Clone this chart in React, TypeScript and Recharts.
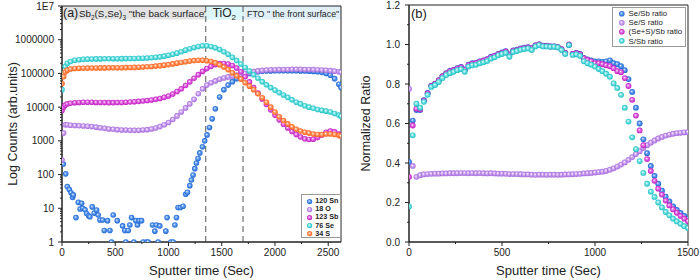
import React from 'react';
import { ScatterChart, Scatter, XAxis, YAxis, ReferenceArea, ReferenceLine, Label } from 'recharts';

const FONT = '"Liberation Sans", Arial, sans-serif';
const AXIS = '#222';

// ---------- (a) depth profile, counts vs sputter time ----------
const tA = [0, 15, 30, 50, 80, 120, 160, 200, 240, 280, 320, 360, 400, 440, 480, 520, 560, 600, 640, 680, 720, 760, 800, 840, 880, 920, 960, 1000, 1040, 1080, 1120, 1160, 1200, 1240, 1280, 1320, 1360, 1400, 1440, 1480, 1520, 1560, 1600, 1640, 1680, 1720, 1760, 1800, 1840, 1880, 1920, 1960, 2000, 2040, 2080, 2120, 2160, 2200, 2240, 2280, 2320, 2360, 2400, 2440, 2480, 2520, 2560, 2600, 2620];

const oCounts = [270, 1700, 3000, 3000, 2900, 2850, 2800, 2750, 2700, 2650, 2550, 2450, 2350, 2250, 2200, 2150, 2100, 2100, 2050, 2050, 2050, 2100, 2150, 2250, 2400, 2650, 3000, 3500, 4300, 5500, 7200, 9500, 12500, 17000, 25000, 35000, 45000, 53000, 60000, 67000, 73000, 79000, 84000, 89000, 94000, 100000, 106000, 113000, 119000, 123000, 126000, 128000, 129000, 130000, 131000, 131000, 132000, 132000, 132000, 131000, 131000, 130000, 129000, 127000, 124000, 121000, 117000, 112000, 108000];
const sbCounts = [8000, 10000, 11500, 12500, 13000, 13500, 13800, 14000, 14000, 14000, 13800, 13800, 13700, 13600, 13600, 13700, 13800, 14000, 14200, 14500, 14800, 15200, 15700, 16300, 17000, 18000, 19500, 21500, 24500, 29000, 35000, 44000, 56000, 72000, 92000, 115000, 140000, 162000, 182000, 195000, 198000, 190000, 172000, 145000, 112000, 80000, 56000, 38000, 26000, 17500, 12000, 8300, 5800, 4200, 3100, 2400, 1900, 1550, 1300, 1150, 1100, 1120, 1250, 1500, 1800, 1950, 1850, 1600, 1500];
const seCounts = [33000, 100000, 160000, 200000, 225000, 245000, 255000, 262000, 265000, 268000, 270000, 270000, 272000, 272000, 273000, 273000, 274000, 275000, 276000, 278000, 280000, 283000, 287000, 292000, 300000, 310000, 325000, 345000, 370000, 400000, 440000, 490000, 540000, 590000, 630000, 660000, 660000, 630000, 580000, 510000, 440000, 370000, 300000, 240000, 190000, 150000, 118000, 92000, 72000, 57000, 46000, 38000, 32000, 27000, 23000, 19500, 16500, 14000, 12500, 11000, 10000, 9200, 8500, 8000, 7600, 7200, 6500, 5800, 5400];
const sCounts = [50000, 80000, 110000, 125000, 135000, 140000, 142000, 143000, 144000, 145000, 145000, 146000, 146000, 147000, 147000, 148000, 148000, 149000, 150000, 151000, 153000, 155000, 158000, 161000, 165000, 170000, 176000, 183000, 192000, 202000, 212000, 222000, 232000, 240000, 245000, 245000, 238000, 225000, 205000, 180000, 155000, 130000, 105000, 85000, 68000, 53000, 42000, 33000, 25000, 19000, 14000, 10000, 7200, 5200, 4000, 3200, 2600, 2200, 1950, 1800, 1700, 1600, 1550, 1550, 1600, 1600, 1550, 1450, 1400];

// Sn is noisy near the back surface, so it keeps its own time points
const snTime = [12, 35, 50, 69, 85, 100, 106, 131, 153, 170, 184, 194, 216, 231, 250, 262, 284, 303, 325, 340, 356, 381, 397, 428, 450, 465, 481, 519, 569, 590, 600, 622, 637, 653, 675, 694, 709, 725, 747, 762, 794, 809, 850, 872, 887, 903, 918, 975, 987, 1022, 1044, 1060, 1075, 1090, 1112, 1137, 1162, 1178, 1200, 1215, 1231, 1247, 1262, 1278, 1294, 1319, 1340, 1362, 1385, 1410, 1440, 1480, 1520, 1560, 1600, 1640, 1680, 1720, 1760, 1800, 1840, 1880, 1920, 1960, 2000, 2040, 2080, 2120, 2160, 2200, 2240, 2280, 2320, 2360, 2400, 2440, 2480, 2520, 2560, 2600, 2620];
const snCounts = [205, 105, 44, 36, 29, 21, 25, 5.3, 15, 9.5, 14, 10, 9, 7, 6, 5.6, 11, 7.2, 8.9, 6.3, 4.5, 4.5, 2.2, 4.3, 2.2, 1, 6.3, 4.3, 3, 2.2, 1, 2.2, 3.2, 5.3, 1, 4.3, 3.2, 4.3, 4.3, 1, 1, 1, 3.2, 2.1, 3.2, 1, 3, 2.1, 5.3, 1, 1, 3.2, 5.3, 10.5, 10.5, 11.5, 26, 30, 47, 69, 97, 150, 220, 300, 440, 670, 1000, 1500, 2500, 4500, 9000, 20000, 33000, 45000, 57000, 70000, 82000, 92000, 100000, 107000, 112000, 116000, 118000, 119000, 120000, 120000, 121000, 121000, 120000, 120000, 119000, 118000, 117000, 115000, 112000, 107000, 100000, 88000, 70000, 48000, 38000];

const xTicksA = [0, 500, 1000, 1500, 2000, 2500];
const xMinorA = [250, 750, 1250, 1750, 2250];
const yTicksA = [1, 10, 100, 1000, 10000, 100000, 1000000, 10000000];
const yLabelsA = ['1', '10', '100', '1000', '10000', '100000', '1000000', '1E7'];
const yMinorA = yTicksA.slice(0, -1).flatMap((d) => [2, 3, 4, 5, 6, 7, 8, 9].map((m) => m * d));
const legendA = ['120 Sn', '18 O', '123 Sb', '76 Se', '34 S'];

// ---------- (b) normalized ratios ----------
const tB = [0, 20, 40, 60, 80, 100, 120, 140, 160, 180, 200, 220, 240, 260, 280, 300, 320, 340, 360, 380, 400, 420, 440, 460, 480, 500, 520, 540, 560, 580, 600, 620, 640, 660, 680, 700, 720, 740, 760, 780, 800, 820, 840, 860, 880, 900, 920, 940, 960, 980, 1000, 1020, 1040, 1060, 1080, 1100, 1120, 1140, 1160, 1180, 1200, 1220, 1240, 1260, 1280, 1300, 1320, 1340, 1360, 1380, 1400, 1420, 1440, 1460, 1480, 1500];

const seSb = [0.405, 0.615, 0.668, 0.668, 0.718, 0.755, 0.792, 0.802, 0.82, 0.84, 0.855, 0.866, 0.872, 0.88, 0.886, 0.874, 0.898, 0.905, 0.907, 0.915, 0.92, 0.926, 0.937, 0.944, 0.953, 0.96, 0.966, 0.95, 0.97, 0.974, 0.98, 0.984, 0.987, 0.982, 0.996, 1.0, 0.994, 0.994, 0.99, 0.99, 0.987, 0.975, 0.957, 0.998, 0.953, 0.957, 0.952, 0.932, 0.925, 0.92, 0.915, 0.915, 0.912, 0.915, 0.92, 0.905, 0.9, 0.89, 0.87, 0.825, 0.76, 0.68, 0.6, 0.52, 0.45, 0.385, 0.335, 0.295, 0.26, 0.23, 0.205, 0.18, 0.162, 0.147, 0.132, 0.118];
const seS = [0.775, 0.385, 0.33, 0.338, 0.342, 0.344, 0.345, 0.346, 0.346, 0.347, 0.347, 0.348, 0.348, 0.348, 0.349, 0.349, 0.348, 0.349, 0.348, 0.349, 0.348, 0.347, 0.348, 0.347, 0.346, 0.346, 0.345, 0.344, 0.344, 0.344, 0.343, 0.342, 0.342, 0.341, 0.34, 0.341, 0.341, 0.34, 0.341, 0.341, 0.34, 0.341, 0.342, 0.342, 0.343, 0.344, 0.345, 0.347, 0.348, 0.35, 0.352, 0.354, 0.356, 0.36, 0.366, 0.373, 0.382, 0.392, 0.403, 0.416, 0.43, 0.445, 0.46, 0.476, 0.49, 0.503, 0.514, 0.524, 0.532, 0.539, 0.544, 0.548, 0.551, 0.553, 0.555, 0.556];
const seSSb = [0.33, 0.59, 0.675, 0.672, 0.715, 0.752, 0.79, 0.8, 0.818, 0.838, 0.853, 0.864, 0.87, 0.878, 0.884, 0.872, 0.896, 0.903, 0.905, 0.913, 0.918, 0.924, 0.935, 0.942, 0.951, 0.958, 0.964, 0.948, 0.968, 0.972, 0.978, 0.982, 0.985, 0.98, 0.995, 1.0, 0.993, 0.993, 0.99, 0.99, 0.987, 0.976, 0.958, 1.0, 0.952, 0.956, 0.95, 0.93, 0.922, 0.915, 0.905, 0.905, 0.9, 0.895, 0.89, 0.88, 0.865, 0.86, 0.83, 0.79, 0.72, 0.64, 0.565, 0.49, 0.42, 0.36, 0.31, 0.27, 0.24, 0.21, 0.185, 0.165, 0.148, 0.132, 0.118, 0.105];
const sSb = [0.18, 0.54, 0.7, 0.68, 0.71, 0.745, 0.785, 0.795, 0.81, 0.83, 0.845, 0.855, 0.862, 0.87, 0.875, 0.862, 0.888, 0.895, 0.897, 0.905, 0.91, 0.916, 0.928, 0.935, 0.945, 0.952, 0.958, 0.938, 0.962, 0.967, 0.973, 0.977, 0.98, 0.972, 0.99, 0.997, 0.99, 0.99, 0.988, 0.989, 0.985, 0.972, 0.952, 0.997, 0.947, 0.95, 0.942, 0.915, 0.905, 0.898, 0.888, 0.876, 0.865, 0.852, 0.837, 0.803, 0.78, 0.745, 0.68, 0.61, 0.53, 0.47, 0.41, 0.35, 0.295, 0.255, 0.228, 0.2, 0.175, 0.152, 0.135, 0.118, 0.104, 0.092, 0.08, 0.07];

const xTicksB = [0, 500, 1000, 1500];
const xMinorB = [250, 750, 1250];
const yTicksB = [0, 0.2, 0.4, 0.6, 0.8, 1.0, 1.2];
const yLabelsB = ['0.0', '0.2', '0.4', '0.6', '0.8', '1.0', '1.2'];
const yMinorB = [0.1, 0.3, 0.5, 0.7, 0.9, 1.1];
const legendB = ['Se/Sb ratio', 'Se/S ratio', '(Se+S)/Sb ratio', 'S/Sb ratio'];

const COLORS: Record<string, [string, string]> = {
  blue: ['#1a64d4', '#6fa6f0'],
  purple: ['#a468dc', '#d6b4f4'],
  magenta: ['#c018c0', '#e77ce7'],
  cyan: ['#18c0c2', '#8ae8ea'],
  orange: ['#ff5e18', '#ffa878'],
};
const keysA = ['blue', 'purple', 'magenta', 'cyan', 'orange'];
const keysB = ['blue', 'purple', 'magenta', 'cyan'];

const pts = (xs: number[], ys: number[]) => xs.map((t, i) => ({ t, v: ys[i] }));

const ball = (key: string, r: number) => (p: any) =>
  p.cx == null ? <g /> : <circle cx={p.cx} cy={p.cy} r={r} fill={`url(#ball-${key})`} />;

const makeXTick = (majors: number[]) => (p: any) => {
  const v = p.payload.value;
  const major = majors.includes(v);
  return (
    <g>
      <line x1={p.x} x2={p.x} y1={p.y} y2={p.y + (major ? 4 : 2)} stroke={AXIS} />
      {major && (
        <text x={p.x} y={p.y + 13.5} textAnchor="middle" fontSize={10} fontFamily={FONT} fill="#222">
          {v}
        </text>
      )}
    </g>
  );
};

const makeYTick = (majors: number[], labels: string[], gap: number) => (p: any) => {
  const i = majors.indexOf(p.payload.value);
  return (
    <g>
      <line x1={p.x - (i >= 0 ? 4 : 2)} x2={p.x} y1={p.y} y2={p.y} stroke={AXIS} />
      {i >= 0 && (
        <text x={p.x - gap} y={p.y + 3.5} textAnchor="end" fontSize={10} fontFamily={FONT} fill="#222">
          {labels[i]}
        </text>
      )}
    </g>
  );
};

const Dot = ({ k, r }: { k: string; r: number }) => (
  <svg width={r * 2 + 2} height={r * 2 + 2} style={{ display: 'block' }}>
    <circle cx={r + 1} cy={r + 1} r={r} fill={`url(#ball-${k})`} />
  </svg>
);

const bandText = (render: (x: number, y: number, w: number) => React.ReactNode) => (p: any) => {
  const vb = p.viewBox || {};
  return <g>{render(vb.x, vb.y, vb.width)}</g>;
};

export default function App() {
  return (
    <div style={{ position: 'absolute', left: 0, top: 0, width: 700, height: 280, background: '#fff', fontFamily: FONT }}>
      <svg width={0} height={0} style={{ position: 'absolute' }}>
        <defs>
          {Object.entries(COLORS).map(([k, [c, light]]) => (
            <radialGradient key={k} id={`ball-${k}`} cx="50%" cy="50%" r="50%" fx="40%" fy="38%">
              <stop offset="0%" stopColor="#ffffff" />
              <stop offset="35%" stopColor={light} />
              <stop offset="100%" stopColor={c} />
            </radialGradient>
          ))}
        </defs>
      </svg>

      {/* panel (a) */}
      <div style={{ position: 'absolute', left: 0, top: 0 }}>
        <ScatterChart width={350} height={280} margin={{ top: 6, right: 9, bottom: 0, left: 0 }}>
          <XAxis
            type="number"
            dataKey="t"
            domain={[0, 2620]}
            allowDataOverflow
            ticks={[...xTicksA, ...xMinorA]}
            interval={0}
            tickSize={0}
            tickMargin={0}
            tickLine={false}
            tick={makeXTick(xTicksA)}
            height={38}
            stroke={AXIS}
          >
            <Label value="Sputter time (Sec)" position="insideBottom" offset={5} fontSize={13} fill="#222" fontFamily={FONT} />
          </XAxis>
          <YAxis
            type="number"
            dataKey="v"
            scale="log"
            domain={[1, 10000000]}
            allowDataOverflow
            ticks={[...yTicksA, ...yMinorA]}
            interval={0}
            tickSize={0}
            tickMargin={0}
            tickLine={false}
            tick={makeYTick(yTicksA, yLabelsA, 8)}
            width={62}
            stroke={AXIS}
          >
            <Label
              value="Log Counts (arb.units)"
              angle={-90}
              position="insideLeft"
              offset={13}
              fontSize={12.5}
              fill="#222"
              fontFamily={FONT}
              style={{ textAnchor: 'middle' }}
            />
          </YAxis>

          <ReferenceLine x={1350} stroke="#555" strokeDasharray="6 4" />
          <ReferenceLine x={1700} stroke="#555" strokeDasharray="6 4" />

          <ReferenceArea x1={0} x2={1350} y1={4000000} y2={10000000} fill="#e3e3e3" fillOpacity={1} stroke="none">
            <Label
              content={bandText((x, y) => (
                <text y={y + 11} fontFamily={FONT} fill="#222">
                  <tspan x={x + 1} fontSize={12.5}>(a)</tspan>
                  <tspan x={x + 17} fontSize={9.8}>Sb</tspan>
                  <tspan fontSize={6.5} dy={2.5}>2</tspan>
                  <tspan fontSize={9.8} dy={-2.5}>(S,Se)</tspan>
                  <tspan fontSize={6.5} dy={2.5}>3</tspan>
                  <tspan fontSize={9.8} dy={-2.5}>{' "the back surface"'}</tspan>
                </text>
              ))}
            />
          </ReferenceArea>
          <ReferenceArea x1={1350} x2={1700} y1={4000000} y2={10000000} fill="#dcf7fa" fillOpacity={1} stroke="none">
            <Label
              content={bandText((x, y, w) => (
                <text x={x + w / 2} y={y + 11} textAnchor="middle" fontFamily={FONT} fill="#222">
                  <tspan fontSize={12}>TiO</tspan>
                  <tspan fontSize={8} dy={3}>2</tspan>
                </text>
              ))}
            />
          </ReferenceArea>
          <ReferenceArea x1={1700} x2={2620} y1={4000000} y2={10000000} fill="#e0eff8" fillOpacity={1} stroke="none">
            <Label
              content={bandText((x, y) => (
                <text x={x + 4} y={y + 10.5} fontSize={8.8} fontFamily={FONT} fill="#222">
                  {'FTO " the front surface"'}
                </text>
              ))}
            />
          </ReferenceArea>

          <Scatter data={pts(snTime, snCounts)} shape={ball('blue', 2.8)} isAnimationActive={false} />
          <Scatter data={pts(tA, oCounts)} shape={ball('purple', 2.8)} isAnimationActive={false} />
          <Scatter data={pts(tA, sbCounts)} shape={ball('magenta', 2.8)} isAnimationActive={false} />
          <Scatter data={pts(tA, seCounts)} shape={ball('cyan', 2.8)} isAnimationActive={false} />
          <Scatter data={pts(tA, sCounts)} shape={ball('orange', 2.8)} isAnimationActive={false} />

          <ReferenceArea x1={0} x2={2620} y1={1} y2={10000000} fill="none" stroke={AXIS} strokeWidth={1} />
        </ScatterChart>
      </div>

      <div
        style={{
          position: 'absolute', left: 301, top: 194, width: 40, height: 44, boxSizing: 'border-box',
          border: '1px solid #999', background: '#fff', padding: '2px 0 0 4px', fontSize: 7.2, fontWeight: 'bold', color: '#222',
        }}
      >
        {legendA.map((name, i) => (
          <div key={name} style={{ display: 'flex', alignItems: 'center', height: 8.2, whiteSpace: 'nowrap' }}>
            <Dot k={keysA[i]} r={2.6} />
            <span style={{ marginLeft: 2, lineHeight: '8px' }}>{name}</span>
          </div>
        ))}
      </div>

      {/* panel (b) */}
      <div style={{ position: 'absolute', left: 350, top: 0 }}>
        <ScatterChart width={350} height={280} margin={{ top: 5, right: 12, bottom: 0, left: 0 }}>
          <XAxis
            type="number"
            dataKey="t"
            domain={[0, 1500]}
            allowDataOverflow
            ticks={[...xTicksB, ...xMinorB]}
            interval={0}
            tickSize={0}
            tickMargin={0}
            tickLine={false}
            tick={makeXTick(xTicksB)}
            height={38}
            stroke={AXIS}
          >
            <Label value="Sputter time (Sec)" position="insideBottom" offset={5} fontSize={13} fill="#222" fontFamily={FONT} />
          </XAxis>
          <YAxis
            type="number"
            dataKey="v"
            domain={[0, 1.2]}
            allowDataOverflow
            ticks={[...yTicksB, ...yMinorB]}
            interval={0}
            tickSize={0}
            tickMargin={0}
            tickLine={false}
            tick={makeYTick(yTicksB, yLabelsB, 9)}
            width={59}
            stroke={AXIS}
          >
            <Label
              value="Normalized Ratio"
              angle={-90}
              position="insideLeft"
              offset={16}
              fontSize={12.5}
              fill="#222"
              fontFamily={FONT}
              style={{ textAnchor: 'middle' }}
            />
          </YAxis>

          <Scatter data={pts(tB, seSb)} shape={ball('blue', 2.9)} isAnimationActive={false} />
          <Scatter data={pts(tB, seS)} shape={ball('purple', 2.9)} isAnimationActive={false} />
          <Scatter data={pts(tB, seSSb)} shape={ball('magenta', 2.9)} isAnimationActive={false} />
          <Scatter data={pts(tB, sSb)} shape={ball('cyan', 2.9)} isAnimationActive={false} />

          <ReferenceArea x1={0} x2={1500} y1={0} y2={1.2} fill="none" stroke={AXIS} strokeWidth={1} />
        </ScatterChart>
      </div>

      <div style={{ position: 'absolute', left: 411, top: 6, fontSize: 13, color: '#222' }}>(b)</div>

      <div
        style={{
          position: 'absolute', left: 612, top: 7, width: 74, height: 40, boxSizing: 'border-box',
          border: '1px solid #999', background: '#fff', padding: '1px 0 0 5px', fontSize: 7.8, color: '#222',
        }}
      >
        {legendB.map((name, i) => (
          <div key={name} style={{ display: 'flex', alignItems: 'center', height: 9.2, whiteSpace: 'nowrap' }}>
            <Dot k={keysB[i]} r={2.8} />
            <span style={{ marginLeft: 3, lineHeight: '9px' }}>{name}</span>
          </div>
        ))}
      </div>
    </div>
  );
}
